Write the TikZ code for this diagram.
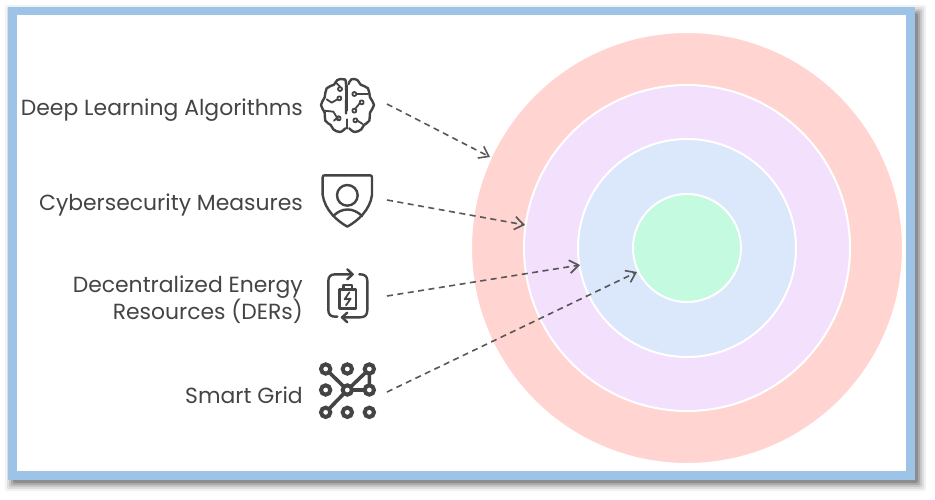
\documentclass[tikz,border=0pt]{standalone}
\usepackage{fontspec}
\setmainfont{Poppins}
\usetikzlibrary{arrows.meta}
\definecolor{frameblue}{HTML}{9DC3E6}
\definecolor{ringa}{HTML}{FFD4D1}
\definecolor{ringb}{HTML}{F2E0FC}
\definecolor{ringc}{HTML}{DBE7FB}
\definecolor{ringd}{HTML}{C4FADF}
\definecolor{ink}{HTML}{444444}
\tikzset{
  ring/.style={draw=white,line width=2pt,circle,inner sep=0pt,minimum size=#1},
  lbl/.style={anchor=east,align=right,text=ink,font=\fontsize{21.9}{26}\selectfont,inner sep=0pt},
  conn/.style={draw=ink!90,line width=1.6pt,dash pattern=on 6pt off 4.5pt,-{Straight Barb[length=9pt,width=13pt,line width=1.6pt]}},
  icon/.style={draw=ink,line width=2.4pt,line cap=round,line join=round,fill=none},
  iconthin/.style={draw=ink,line width=1.8pt,line cap=round,line join=round,fill=none}
}
\begin{document}
\begin{tikzpicture}[x=1pt,y=-1pt]
\useasboundingbox (0,0) rectangle (935,499);
% shadow
\foreach \d/\o in {9/.05,7/.08,5/.10,3/.14,1/.18}{
  \fill[black,opacity=\o,rounded corners=2pt] (14-\d,14-\d) rectangle (917+\d,482+\d);
}
\fill[frameblue] (8,7) rectangle (915,480);
\fill[white] (17,15) rectangle (906,471);
% rings
\node[ring=432pt,fill=ringa] (r1) at (687,248) {};
\node[ring=326pt,fill=ringb] (r2) at (687,248) {};
\node[ring=218pt,fill=ringc] (r3) at (687,248) {};
\node[ring=108pt,fill=ringd] (r4) at (687,248) {};
% labels
\node[lbl] (l1) at (303,110) {Deep Learning Algorithms};
\node[lbl] (l2) at (303,205) {Cybersecurity Measures};
\node[lbl] (l3) at (303,300) {Decentralized Energy\\Resources (DERs)};
\node[lbl] (l4) at (303,395) {Smart Grid};
% connector ends
\coordinate (s1) at (387,104); \coordinate (e1) at (490,157);
\coordinate (s2) at (387,200); \coordinate (e2) at (525,225);
\coordinate (s3) at (387,296); \coordinate (e3) at (580,265);
\coordinate (s4) at (387,392); \coordinate (e4) at (637,272);
\draw[conn] (s1) -- (e1);
\draw[conn] (s2) -- (e2);
\draw[conn] (s3) -- (e3);
\draw[conn] (s4) -- (e4);
% brain + shield (coordinates as read from 3x crop)
\begin{scope}[shift={(310,70)},x=.3333pt,y=-.3333pt]
  \draw[icon] plot[smooth,tension=.7] coordinates {(106,175)(90,186)(70,178)(62,165)(46,152)(44,128)(33,105)(44,82)(50,55)(72,44)(82,30)(100,28)(108,42)(108,130)};
  \draw[icon] plot[smooth,tension=.7] coordinates {(118,175)(134,186)(154,178)(162,165)(178,152)(180,128)(192,105)(180,82)(174,55)(152,44)(142,30)(124,28)(116,42)};
  \draw[iconthin] (112,45)--(112,122) (112,148)--(112,176);
  \draw[iconthin] (90,57) circle[radius=6] (88,85) circle[radius=6] (86,145) circle[radius=6];
  \draw[iconthin] (133,72) circle[radius=6] (155,97) circle[radius=6] (133,122) circle[radius=6] (136,151) circle[radius=6];
  \draw[iconthin] (50,88)--(65,98)--(82,88) (78,38)--(90,50) (42,122)--(70,125)--(86,151)
    (140,72)--(174,72) (149,100)--(136,116) (142,152)--(158,162) (86,139)--(72,152);
  % shield
  \draw[icon] (38,322)--(38,375) .. controls (45,420) and (80,452) .. (112,470) .. controls (144,452) and (180,420) .. (186,375)--(186,322)
     .. controls (186,318) and (184,316) .. (180,316)--(44,316) .. controls (40,316) and (38,318) .. (38,322)--cycle;
  \draw[icon] (112,376) circle[radius=31];
  \draw[icon] (70,438) .. controls (95,412) and (130,412) .. (156,438);
\end{scope}
% battery + network
\begin{scope}[shift={(310,260)},x=.3333pt,y=-.3333pt]
  \draw[icon] (124,43)--(75,43) .. controls (62,43) and (55,50) .. (55,63)--(55,150) .. controls (55,163) and (62,170) .. (75,170)--(82,170);
  \draw[icon] (112,28)--(128,43)--(112,58);
  \draw[icon] (98,172)--(150,172) .. controls (165,172) and (172,165) .. (172,150)--(172,63) .. controls (172,50) and (165,43) .. (152,43)--(148,43);
  \draw[icon] (112,158)--(96,172)--(112,187);
  \draw[icon] (88,88) rectangle (138,145);
  \draw[icon] (100,88)--(100,75)--(126,75)--(126,88);
  \draw[iconthin] (118,97)--(104,118)--(122,116)--(108,136);
  % grid
  \draw[draw=ink,line width=3.6pt,line cap=round] (47,327)--(112,390) (178,327)--(112,390) (47,457)--(112,390) (112,390)--(178,390) (178,327)--(178,390);
  \foreach \cx/\cy in {47/327,112/327,178/327,47/390,112/390,178/390,47/457,112/457,178/457}{
    \draw[draw=ink,fill=white,line width=4pt] (\cx,\cy) circle[radius=14];
  }
\end{scope}
\end{tikzpicture}
\end{document}
